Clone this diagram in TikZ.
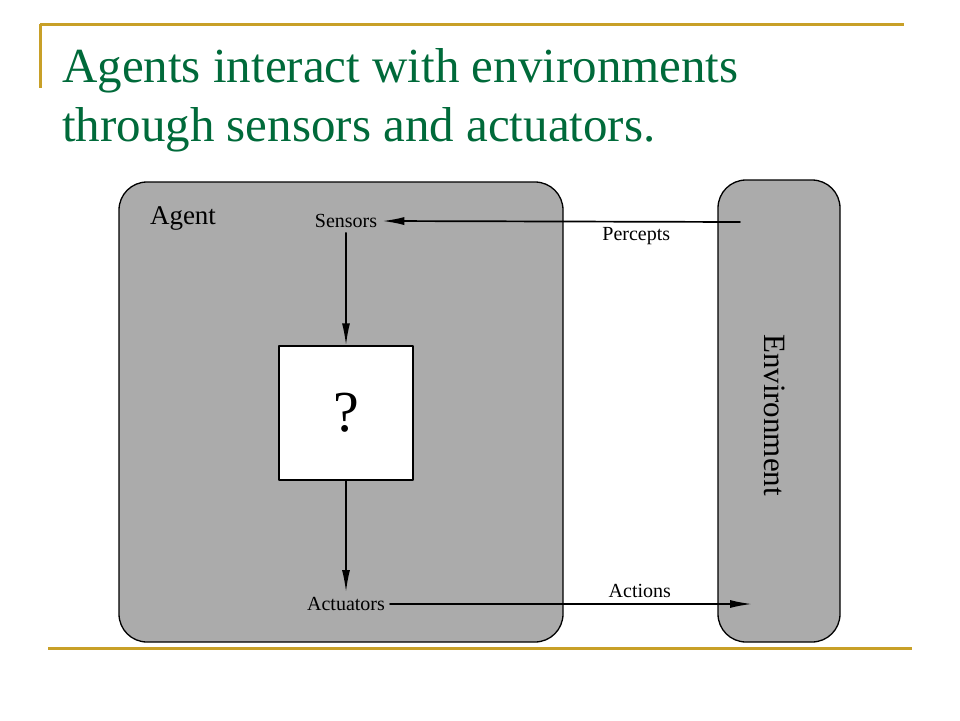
\documentclass[tikz,border=0pt]{standalone}
\usepackage{fontspec}
\setmainfont{Liberation Serif}
\usepackage{tikz}
\usetikzlibrary{arrows.meta}
\tikzset{>={Latex[length=22pt,width=8pt]}}
\usepackage{xcolor}
\definecolor{mygold}{RGB}{200,160,40}
\definecolor{mygreen}{RGB}{0,106,58}
\colorlet{mygray}{black!33}

\begin{document}
\begin{tikzpicture}[
	x=1pt, y=-1pt,
	line cap=round, line join=round,
	rule/.style={mygold, line width=3pt, line cap=butt},
	panel/.style={draw, line width=1.3pt, fill=mygray, rounded corners=28pt},
	agentfn/.style={draw, line width=1.3pt, fill=white, minimum size=134pt},
	lbl/.style={font=\fontsize{20}{24}\selectfont, inner sep=5pt},
	flow/.style={->, line width=1.7pt}
]
	\useasboundingbox (0,0) rectangle (960,720);

	% slide frame and title
	\draw[rule] (40,24) -- (904,24);
	\draw[rule] (40,24) -- (40,88);
	\draw[rule] (48,648) -- (912,648);
	\node[anchor=base west, inner sep=0pt, mygreen, font=\fontsize{49}{59}\selectfont] (title) at (62,82) {Agents interact with environments};
	\node[anchor=base west, inner sep=0pt, mygreen, font=\fontsize{49}{59}\selectfont] (subtitle) at (62,141) {through sensors and actuators.};

	% agent and environment
	\node[panel, minimum width=444pt, minimum height=460pt] (agent) at (341,412) {};
	\node[panel, minimum width=122pt, minimum height=462pt] (env) at (779,411) {};
	\node[font=\fontsize{27}{30}\selectfont] (agentname) at (183,218) {Agent};
	\node[rotate=-90, font=\fontsize{31}{34}\selectfont] (envname) at (775,415) {Environment};

	\node[lbl] (sensors) at (346,221) {Sensors};
	\node[agentfn, font=\fontsize{58}{60}\selectfont] (fn) at (346,413) {?};
	\node[lbl] (actuators) at (346,604) {Actuators};
	\coordinate (percepts) at (740,222);
	\coordinate (actions) at (752,604);

	% connections
	\draw[flow] (percepts) -- (sensors.east) node[lbl, pos=0.29, below] {Percepts};
	\draw[flow] (sensors.south) -- (fn.north);
	\draw[flow] (fn.south) -- (actuators.north);
	\draw[flow] (actuators.east) -- (actions) node[lbl, pos=0.69, above] {Actions};
\end{tikzpicture}
\end{document}
